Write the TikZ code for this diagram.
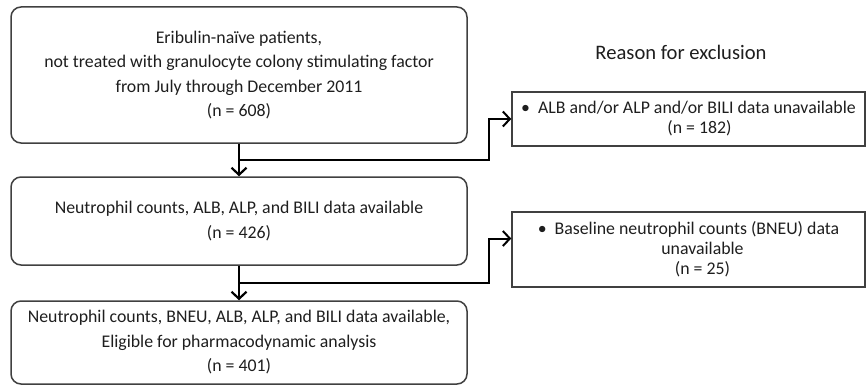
\documentclass[tikz,border=0pt]{standalone}
\usepackage{fontspec}
\setmainfont{Carlito}
\usepackage{tikz}
\usetikzlibrary{arrows.meta, calc}
\definecolor{edge}{RGB}{64, 64, 64}
\definecolor{ink}{RGB}{30, 30, 30}

\begin{document}
\begin{tikzpicture}[x=1pt, y=-1pt,
    stagebox/.style={draw=edge, line width=1.5pt, rounded corners=10pt,
      minimum width=456pt, align=center, text=ink,
      font=\fontsize{17.8}{24.5}\selectfont},
    dropbox/.style={draw=edge, line width=1.5pt, minimum width=353pt,
      align=center, text=ink, font=\fontsize{17.8}{20}\selectfont},
    flow/.style={line width=2.4pt, -{Straight Barb[length=7pt, width=15pt, line width=2.2pt]}},
    branch/.style={line width=2pt, -{Straight Barb[length=7pt, width=15pt, line width=2pt]}}]

  \useasboundingbox (0, 0) rectangle (866, 385);

  % main flow
  \node[stagebox, minimum height=136pt] (pool) at (239, 75)
    {Eribulin-na\"ive patients,\\
     not treated with granulocyte colony stimulating factor\\
     from July through December 2011\\
     (n = 608)};
  \node[stagebox, minimum height=88pt] (labs) at (239, 221)
    {Neutrophil counts, ALB, ALP, and BILI data available\\
     (n = 426)};
  \node[stagebox, minimum height=83pt] (final) at (239, 342.5)
    {Neutrophil counts, BNEU, ALB, ALP, and BILI data available,\\
     Eligible for pharmacodynamic analysis\\
     (n = 401)};

  % exclusions
  \node[text=ink, font=\fontsize{20.6}{24}\selectfont] (why) at (681, 52)
    {Reason for exclusion};
  \node[dropbox, minimum height=54pt] (nolab) at (688.5, 119)
    {\textbullet\ \ ALB and/or ALP and/or BILI data unavailable\\
     \hspace*{22pt}(n = 182)};
  \node[dropbox, minimum height=75pt] (nobneu) at (688.5, 249.5)
    {\textbullet\ \ Baseline neutrophil counts (BNEU) data\\
     \hspace*{28pt}unavailable\\
     \hspace*{28pt}(n = 25)};

  \coordinate (split1) at ($(pool.south)!.5!(labs.north)$);
  \coordinate (split2) at ($(labs.south)!.5!(final.north)$);
  \coordinate (into2) at ($(nobneu.west)+(0, -11)$);

  \draw[flow] (pool.south) -- (labs.north);
  \draw[flow] (labs.south) -- (final.north);
  \draw[branch] (split1) -| ($(nolab.west)+(-22, 0)$) -- (nolab.west);
  \draw[branch] (split2) -| ($(into2)+(-22, 0)$) -- (into2);

\end{tikzpicture}
\end{document}
